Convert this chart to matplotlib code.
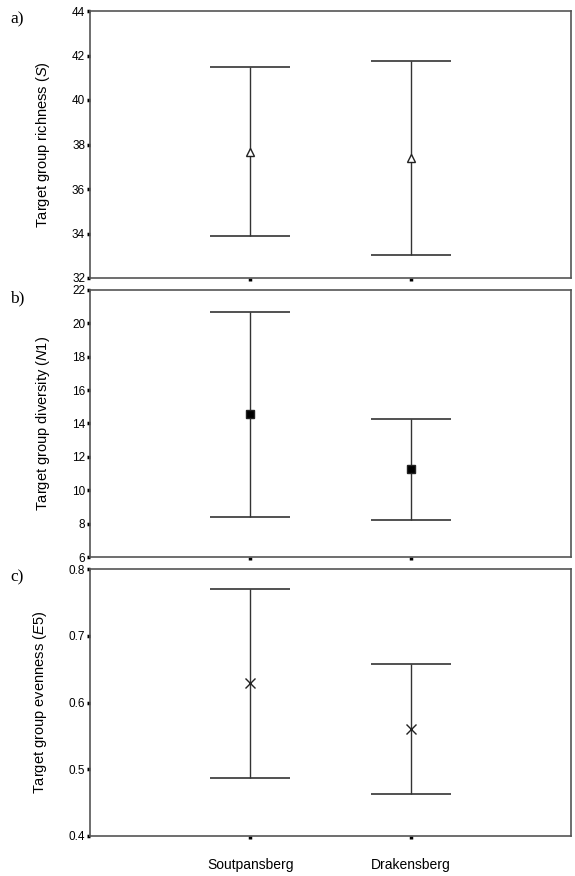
import matplotlib.pyplot as plt
import numpy as np

# data (mean, lower and upper interval limits)
sites = ['Soutpansberg', 'Drakensberg']
richness_mean = [37.66, 37.39]
richness_low = [33.89, 33.03]
richness_high = [41.48, 41.75]

diversity_mean = [14.57, 11.27]
diversity_low = [8.40, 8.22]
diversity_high = [20.68, 14.27]

evenness_mean = [0.629, 0.561]
evenness_low = [0.487, 0.463]
evenness_high = [0.770, 0.658]

panels = [
    ('a)', 'Target group richness ($\\mathit{S}$)', richness_mean, richness_low, richness_high,
     (32, 44), np.arange(32, 45, 2), lambda v: f'{v:.0f}', dict(marker='^', mfc='white', ms=6)),
    ('b)', 'Target group diversity ($\\mathit{N1}$)', diversity_mean, diversity_low, diversity_high,
     (6, 22), np.arange(6, 23, 2), lambda v: f'{v:.0f}', dict(marker='s', mfc='black', ms=6)),
    ('c)', 'Target group evenness ($\\mathit{E5}$)', evenness_mean, evenness_low, evenness_high,
     (0.4, 0.8), np.arange(0.4, 0.81, 0.1), lambda v: f'{v:.1f}', dict(marker='x', ms=7, mew=1)),
]

plt.rcParams['font.family'] = ['Liberation Sans', 'DejaVu Sans']
plt.rcParams['mathtext.fontset'] = 'custom'
plt.rcParams['mathtext.it'] = 'Liberation Sans:italic'
plt.rcParams['mathtext.rm'] = 'Liberation Sans'

fig = plt.figure(figsize=(5.75, 8.76), dpi=100)
W, H = 575, 876
left, right = 90, 571
tops = [11, 290, 569]
height = 267
x = np.arange(1, len(sites) + 1)

for (tag, ylabel, mean, low, high, ylim, ticks, fmt, mstyle), top in zip(panels, tops):
    ax = fig.add_axes([left / W, 1 - (top + height) / H, (right - left) / W, height / H])
    mean = np.array(mean)
    err = [mean - np.array(low), np.array(high) - mean]
    ax.errorbar(x, mean, yerr=err, fmt='none', ecolor='#333333', elinewidth=1,
                capsize=29, capthick=1.2)
    ax.plot(x, mean, linestyle='none', color='#222222', mec='#222222', **mstyle)
    ax.set_xlim(0, 3)
    ax.set_ylim(*ylim)
    ax.set_yticks(ticks)
    ax.set_yticklabels([fmt(v) for v in ticks], fontsize=8.5)
    ax.set_xticks(x)
    ax.set_xticklabels(sites if tag == 'c)' else [], fontsize=10)
    ax.tick_params(axis='both', direction='out', length=2.5, width=2.5, color='black', pad=1)
    ax.tick_params(axis='x', pad=13)
    for s in ax.spines.values():
        s.set_color('#555555')
        s.set_linewidth(1.2)
    ax.set_ylabel(ylabel, fontsize=10.5, labelpad=14)
    ax.text(10 / W, 1 - (top + 8) / H, tag, transform=fig.transFigure,
            family='Liberation Serif', fontsize=12.5, va='center')

fig.savefig('out.png', dpi=100)
